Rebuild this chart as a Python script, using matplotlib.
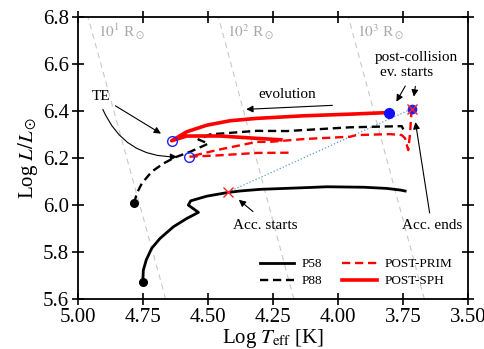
import matplotlib
matplotlib.use('Agg')
import matplotlib.pyplot as plt

plt.rcParams['font.family'] = ['Liberation Serif', 'DejaVu Serif']
plt.rcParams['mathtext.fontset'] = 'stix'

# tracks (log Teff, log L)
p58_logt = [4.751, 4.749, 4.738, 4.717, 4.685, 4.633, 4.582, 4.537, 4.576, 4.567,
            4.505, 4.422, 4.377, 4.300, 4.108, 4.043, 3.900, 3.813, 3.760, 3.742]
p58_logl = [5.674, 5.723, 5.766, 5.816, 5.858, 5.908, 5.943, 5.969, 6.000, 6.018,
            6.038, 6.054, 6.060, 6.067, 6.075, 6.078, 6.076, 6.071, 6.064, 6.060]

p88_logt = [4.785, 4.774, 4.755, 4.717, 4.672, 4.627, 4.569, 4.512, 4.499, 4.537,
            4.492, 4.313, 4.197, 3.954, 3.755, 3.749]
p88_logl = [6.007, 6.050, 6.092, 6.142, 6.177, 6.203, 6.227, 6.255, 6.262, 6.279,
            6.301, 6.316, 6.315, 6.331, 6.336, 6.322]

prim_logt = [3.717, 3.723, 3.730, 3.742, 3.755, 3.800, 3.928, 3.954, 4.133, 4.262,
             4.313, 4.467, 4.572, 4.454, 4.313, 4.185]
prim_logl = [6.409, 6.305, 6.234, 6.284, 6.298, 6.302, 6.298, 6.291, 6.281, 6.269,
             6.269, 6.234, 6.206, 6.212, 6.222, 6.223]

sph_logt = [3.803, 3.954, 4.133, 4.313, 4.415, 4.505, 4.582, 4.640, 4.582, 4.454,
            4.313, 4.220]
sph_logl = [6.394, 6.387, 6.380, 6.369, 6.359, 6.340, 6.312, 6.274, 6.294, 6.294,
            6.284, 6.278]

# special points
te_logt = [4.640, 4.572]
te_logl = [6.274, 6.206]
start_logt = [4.751, 4.785]
start_logl = [5.674, 6.007]
post_start = (3.803, 6.394)
acc_start = (4.422, 6.056)
acc_end = (3.717, 6.409)

# constant radius lines: log Teff at bottom (5.6) and top (6.8)
radius_labels = [r'$10^1$ R$_\odot$', r'$10^2$ R$_\odot$', r'$10^3$ R$_\odot$']
radius_t_bottom = [4.663, 4.170, 3.668]
radius_t_top = [4.962, 4.460, 3.960]
radius_label_t = [4.923, 4.427, 3.928]

fig = plt.figure(figsize=(4.85, 3.49), dpi=100)
ax = fig.add_axes([0.161, 0.143, 0.804, 0.808])

for tb, tt, lab, tl in zip(radius_t_bottom, radius_t_top, radius_labels, radius_label_t):
    ax.plot([tb, tt], [5.6, 6.8], color='#c8c8c8', lw=0.8, ls=(0, (5, 4)), zorder=1)
    ax.text(tl, 6.736, lab, color='#a8a8a8', fontsize=11, ha='left', va='center')

ax.plot([acc_start[0], acc_end[0]], [acc_start[1], acc_end[1]], color='#5b9bd5',
        lw=0.9, ls=':', zorder=2)

ax.plot(p58_logt, p58_logl, color='k', lw=2.0, label='P58', zorder=3)
ax.plot(p88_logt, p88_logl, color='k', lw=1.7, ls=(0, (3.5, 2)), label='P88', zorder=3)
ax.plot(prim_logt, prim_logl, color='#ff0000', lw=1.7, ls=(0, (3.5, 2)), label='POST-PRIM', zorder=4)
ax.plot(sph_logt, sph_logl, color='#ff0000', lw=2.6, label='POST-SPH', zorder=4)

ax.plot(start_logt, start_logl, 'o', color='k', ms=5.5, zorder=5)
ax.plot(te_logt, te_logl, 'o', mfc='none', mec='#2020ff', mew=1.0, ms=7, zorder=6)
ax.plot(*post_start, 'o', color='#1010ff', ms=7, zorder=6)
ax.plot(*acc_end, 'o', color='#2020ff', ms=6, zorder=6)
ax.plot(*acc_end, 'x', color='#ff2020', ms=7, mew=1.0, zorder=7)
ax.plot(*acc_start, 'x', color='#ff2020', ms=7, mew=1.0, zorder=7)

arr = dict(arrowstyle='-|>', color='k', lw=0.8, mutation_scale=10)
ax.annotate('TE', xy=(4.672, 6.298), xytext=(4.912, 6.460), fontsize=11,
            ha='center', va='center', arrowprops=arr)
ax.annotate('', xy=(4.608, 6.206), xytext=(4.909, 6.418),
            arrowprops=dict(arr, connectionstyle='arc3,rad=0.35'))
ax.annotate('', xy=(4.364, 6.407), xytext=(4.011, 6.425), arrowprops=arr)
ax.text(4.197, 6.472, 'evolution', fontsize=11, ha='center', va='center')
ax.text(3.697, 6.628, 'post-collision', fontsize=11, ha='center', va='center')
ax.text(3.736, 6.563, 'ev. starts', fontsize=11, ha='center', va='center')
ax.annotate('', xy=(3.781, 6.430), xytext=(3.736, 6.517), arrowprops=arr)
ax.annotate('', xy=(3.710, 6.450), xytext=(3.701, 6.517), arrowprops=arr)
ax.annotate('', xy=(4.390, 6.030), xytext=(4.319, 5.965), arrowprops=arr)
ax.text(4.281, 5.915, 'Acc. starts', fontsize=11, ha='center', va='center')
ax.annotate('', xy=(3.704, 6.365), xytext=(3.646, 5.955), arrowprops=arr)
ax.text(3.640, 5.915, 'Acc. ends', fontsize=11, ha='center', va='center')

ax.set_xlim(5.0, 3.5)
ax.set_ylim(5.6, 6.8)
ax.set_xticks([5.0, 4.75, 4.5, 4.25, 4.0, 3.75, 3.5])
ax.set_xticklabels(['5.00', '4.75', '4.50', '4.25', '4.00', '3.75', '3.50'])
ax.set_yticks([5.6, 5.8, 6.0, 6.2, 6.4, 6.6, 6.8])
ax.tick_params(direction='inout', length=9, width=1.2, labelsize=15,
               top=True, right=True, pad=2)
for s in ax.spines.values():
    s.set_linewidth(1.3)
ax.set_xlabel(r'Log $T_{\rm eff}$ [K]', fontsize=15, labelpad=0)
ax.set_ylabel(r'Log $L/L_\odot$', fontsize=15, labelpad=2)

ax.legend(loc='lower right', bbox_to_anchor=(0.99, 0.0), ncol=2, frameon=False,
          fontsize=9.5, handlelength=2.6, handletextpad=0.6, columnspacing=1.5,
          labelspacing=0.35)

fig.savefig('out.png', dpi=100)
